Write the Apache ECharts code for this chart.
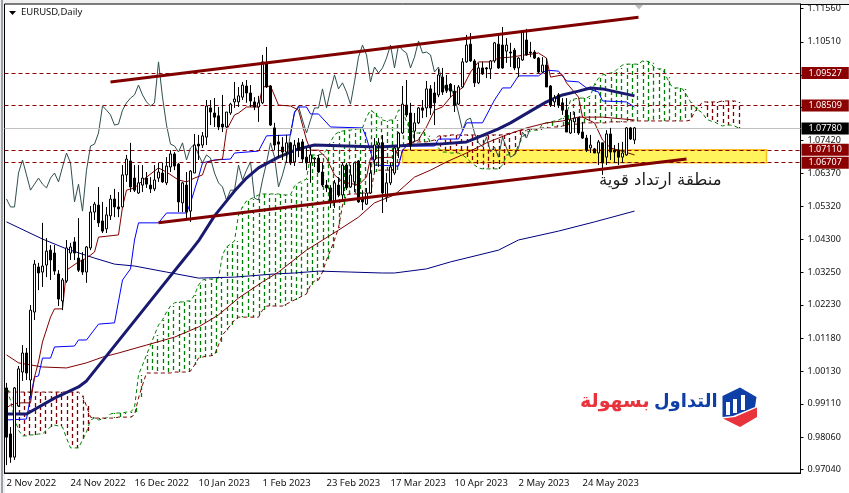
<!DOCTYPE html>
<html><head><meta charset="utf-8">
<style>
html,body{margin:0;padding:0;background:#efefef;overflow:hidden}
#bg{position:absolute;left:5px;top:4px;width:844px;height:489px;background:#fff;border-top:1px solid #000;box-sizing:border-box}
#edge{position:absolute;left:1px;top:0;width:2px;height:493px;background:#9aa0a6}
#c{position:absolute;left:0;top:0;width:849px;height:493px}
</style></head><body><div id="edge"></div><div id="bg"></div><div id="c"></div>
<script src="https://cdn.jsdelivr.net/npm/echarts@6/dist/echarts.min.js"></script>
<script>
const dateLabels=['2 Nov 2022','24 Nov 2022','16 Dec 2022','10 Jan 2023','1 Feb 2023','23 Feb 2023','17 Mar 2023','10 Apr 2023','2 May 2023','24 May 2023'];
const priceTicks=[1.1156,1.1051,1.0946,1.0844,1.0742,1.0637,1.0532,1.0430,1.0325,1.0223,1.0118,1.0013,0.9911,0.9806,0.9704];
const opens=[.9961,.9816,.9743,.9904,1.0011,1.0071,.9986,1.0200,1.0342,1.0326,
1.0348,1.0395,1.0386,1.0320,1.0235,1.0298,1.0386,1.0421,1.0370,1.0364,
1.0326,1.0402,1.0515,1.0537,1.0487,1.0462,1.0503,1.0556,1.0531,1.0531,
1.0632,1.0676,1.0622,1.0575,1.0600,1.0622,1.0600,1.0588,1.0622,1.0638,
1.0607,1.0657,1.0698,1.0666,1.0544,1.0600,1.0518,1.0638,1.0729,1.0726,
1.0751,1.0843,1.0827,1.0818,1.0792,1.0783,1.0827,1.0862,1.0862,1.0877,
1.0912,1.0890,1.0862,1.0846,1.0859,1.0985,1.0912,1.0780,1.0736,1.0720,
1.0704,1.0733,1.0673,1.0733,1.0736,1.0688,1.0670,1.0682,1.0685,1.0641,
1.0600,1.0591,1.0547,1.0600,1.0569,1.0663,1.0594,1.0610,1.0676,1.0559,
1.0540,1.0575,1.0679,1.0726,1.0733,1.0562,1.0607,1.0638,1.0717,1.0764,
1.0852,1.0827,1.0770,1.0796,1.0843,1.0843,1.0903,1.0890,1.0884,1.0940,
1.0915,1.0918,1.0896,1.0855,1.0909,1.0988,1.1044,1.0991,1.0922,1.0969,
1.0969,1.0966,1.0991,1.1044,1.1041,1.1022,1.1019,1.1025,1.0969,1.0994,
1.1057,1.1019,1.1019,1.1000,1.0956,1.0978,1.0912,1.0862,1.0884,1.0859,
1.0836,1.0764,1.0799,1.0811,1.0767,1.0748,1.0717,1.0714,1.0701,1.0733,
1.0688,1.0761,1.0710,1.0710,1.0688,1.0695,1.0780,1.0742];
const closes=[.9806,.9743,.9961,1.0021,1.0071,1.0008,1.0206,1.0351,1.0323,1.0345,
1.0392,1.0364,1.0329,1.0241,1.0301,1.0402,1.0405,1.0386,1.0332,1.0326,
1.0405,1.0515,1.0540,1.0481,1.0455,1.0506,1.0556,1.0531,1.0525,1.0632,
1.0682,1.0594,1.0584,1.0607,1.0622,1.0603,1.0588,1.0616,1.0641,1.0610,
1.0660,1.0698,1.0660,1.0547,1.0607,1.0515,1.0644,1.0726,1.0723,1.0755,
1.0849,1.0830,1.0814,1.0783,1.0783,1.0830,1.0855,1.0871,1.0881,1.0915,
1.0890,1.0865,1.0846,1.0859,1.0988,1.0909,1.0789,1.0726,1.0729,1.0704,
1.0733,1.0670,1.0726,1.0710,1.0682,1.0670,1.0695,1.0685,1.0641,1.0600,
1.0591,1.0544,1.0607,1.0569,1.0663,1.0591,1.0632,1.0670,1.0547,1.0547,
1.0575,1.0638,1.0726,1.0733,1.0575,1.0607,1.0657,1.0717,1.0764,1.0855,
1.0821,1.0726,1.0796,1.0843,1.0836,1.0903,1.0843,1.0859,1.0947,1.0893,
1.0899,1.0896,1.0852,1.0909,1.0988,1.1041,1.0991,1.0922,1.0969,1.0950,
1.0966,1.0991,1.1048,1.0969,1.0969,1.1041,1.1016,1.0969,1.1000,1.1082,
1.1010,1.1016,1.1000,1.0956,1.0978,1.0909,1.0852,1.0874,1.0852,1.0836,
1.0767,1.0805,1.0811,1.0764,1.0748,1.0710,1.0726,1.0701,1.0736,1.0670,
1.0761,1.0704,1.0704,1.0688,1.0701,1.0780,1.0745,1.0780];
const lows=[.9718,.9725,.9734,.9901,.9983,.9986,.9936,1.0175,1.0269,1.0279,
1.0310,1.0301,1.0317,1.0219,1.0206,1.0292,1.0364,1.0364,1.0326,1.0317,
1.0292,1.0395,1.0490,1.0468,1.0449,1.0449,1.0490,1.0499,1.0499,1.0531,
1.0610,1.0578,1.0578,1.0572,1.0578,1.0591,1.0575,1.0581,1.0610,1.0607,
1.0600,1.0641,1.0647,1.0515,1.0515,1.0496,1.0484,1.0638,1.0679,1.0717,
1.0726,1.0789,1.0783,1.0773,1.0767,1.0780,1.0821,1.0843,1.0846,1.0868,
1.0859,1.0846,1.0836,1.0799,1.0855,1.0906,1.0786,1.0710,1.0688,1.0679,
1.0670,1.0663,1.0660,1.0688,1.0670,1.0647,1.0607,1.0657,1.0638,1.0594,
1.0578,1.0528,1.0528,1.0562,1.0553,1.0584,1.0591,1.0578,1.0544,1.0521,
1.0537,1.0572,1.0638,1.0657,1.0512,1.0547,1.0600,1.0632,1.0685,1.0761,
1.0814,1.0710,1.0736,1.0792,1.0811,1.0814,1.0821,1.0789,1.0877,1.0884,
1.0890,1.0877,1.0830,1.0852,1.0906,1.0985,1.0988,1.0909,1.0918,1.0947,
1.0937,1.0934,1.0985,1.0966,1.0966,1.0985,1.0972,1.0962,1.0940,1.0991,
1.1007,1.1003,1.0997,1.0953,1.0953,1.0909,1.0846,1.0846,1.0843,1.0821,
1.0767,1.0761,1.0764,1.0758,1.0745,1.0704,1.0701,1.0701,1.0663,1.0632,
1.0663,1.0679,1.0670,1.0663,1.0670,1.0692,1.0742,1.0729];
const highs=[.9977,.9838,.9964,1.0030,1.0096,1.0087,1.0222,1.0364,1.0355,1.0481,
1.0433,1.0411,1.0411,1.0332,1.0307,1.0427,1.0418,1.0436,1.0496,1.0389,
1.0408,1.0534,1.0547,1.0594,1.0547,1.0531,1.0569,1.0588,1.0578,1.0663,
1.0695,1.0733,1.0663,1.0663,1.0663,1.0641,1.0625,1.0663,1.0670,1.0670,
1.0688,1.0710,1.0704,1.0670,1.0610,1.0641,1.0647,1.0761,1.0758,1.0767,
1.0868,1.0868,1.0874,1.0846,1.0884,1.0830,1.0859,1.0925,1.0909,1.0925,
1.0931,1.0915,1.0877,1.0881,1.1010,1.1035,1.0915,1.0796,1.0758,1.0751,
1.0758,1.0736,1.0742,1.0748,1.0745,1.0717,1.0720,1.0688,1.0695,1.0670,
1.0616,1.0600,1.0616,1.0625,1.0670,1.0670,1.0663,1.0673,1.0679,1.0584,
1.0591,1.0670,1.0748,1.0748,1.0758,1.0638,1.0670,1.0720,1.0767,1.0912,
1.0931,1.0859,1.0827,1.0846,1.0868,1.0928,1.0915,1.0925,1.0966,1.0969,
1.0947,1.0921,1.0915,1.0915,1.1000,1.1073,1.1079,1.0997,1.0985,1.0988,
1.0972,1.0994,1.1051,1.1073,1.1098,1.1063,1.1048,1.1032,1.1003,1.1088,
1.1092,1.1051,1.1025,1.1003,1.1003,1.1000,1.0915,1.0884,1.0890,1.0874,
1.0874,1.0830,1.0830,1.0814,1.0799,1.0758,1.0758,1.0717,1.0742,1.0733,
1.0773,1.0780,1.0726,1.0733,1.0736,1.0783,1.0783,1.0783];
const chikou=[1.0556,1.0531,1.0531,1.0638,1.0679,1.0632,1.0584,1.0603,1.0622,1.0603,
1.0591,1.0622,1.0638,1.0610,1.0657,1.0701,1.0670,1.0547,1.0603,1.0518,
1.0647,1.0723,1.0729,1.0764,1.0849,1.0836,1.0821,1.0789,1.0792,1.0836,
1.0859,1.0874,1.0884,1.0915,1.0884,1.0862,1.0849,1.0859,1.0988,1.0877,
1.0789,1.0729,1.0723,1.0704,1.0733,1.0679,1.0717,1.0729,1.0695,1.0670,
1.0695,1.0685,1.0638,1.0607,1.0594,1.0553,1.0584,1.0584,1.0663,1.0616,
1.0647,1.0673,1.0559,1.0553,1.0616,1.0670,1.0733,1.0688,1.0594,
1.0632,1.0679,1.0764,1.0827,1.0849,1.0805,1.0764,1.0805,1.0843,1.0843,1.0903,
1.0843,1.0899,1.0947,1.0903,1.0922,1.0893,1.0855,1.0925,1.1003,1.1041,
1.1010,1.0925,1.0972,1.0953,1.0969,1.1000,1.1041,1.0969,1.1041,1.1025,
1.1016,1.0969,1.1003,1.1054,1.1016,1.1019,1.1010,1.0956,1.0972,1.0925,
1.0893,1.0912,1.0877,1.0827,1.0773,1.0805,1.0811,1.0764,1.0733,1.0720,
1.0751,1.0704,1.0720,1.0688,1.0751,1.0717,1.0688,1.0695,1.0717,1.0767,1.0748,1.0780];
const senkouA=[.9954,.9923,.9866,.9828,.9810,.9810,.9813,.9813,.9816,.9816,
.9828,.9838,.9844,.9841,.9838,.9803,.9772,.9772,.9772,.9797,
.9822,.9860,.9866,.9860,.9863,.9866,.9879,.9882,.9882,.9882,
.9885,.9885,.9898,1.0002,1.0033,1.0065,1.0096,1.0128,1.0159,1.0175,
1.0200,1.0219,1.0229,1.0232,1.0232,1.0235,1.0235,1.0254,1.0285,1.0301,
1.0304,1.0304,1.0304,1.0307,1.0380,1.0405,1.0414,1.0424,1.0506,1.0531,
1.0550,1.0556,1.0562,1.0569,1.0572,1.0572,1.0572,1.0572,1.0572,1.0569,
1.0569,1.0569,1.0597,1.0607,1.0613,1.0619,1.0695,1.0695,1.0695,1.0698,
1.0710,1.0736,1.0758,1.0767,1.0770,1.0773,1.0773,1.0777,1.0777,1.0780,
1.0814,1.0836,1.0827,1.0814,1.0805,1.0802,1.0805,1.0805,1.0836,1.0836,
1.0799,1.0773,1.0764,1.0764,1.0767,1.0755,1.0736,1.0726,1.0717,1.0704,
1.0704,1.0701,1.0701,1.0701,1.0695,1.0685,1.0673,1.0663,1.0654,1.0651,
1.0651,1.0651,1.0651,1.0651,1.0663,1.0695,1.0695,1.0695,1.0726,1.0751,
1.0767,1.0770,1.0773,1.0773,1.0792,1.0796,1.0799,1.0802,1.0805,1.0811,
1.0821,1.0868,1.0871,1.0874,1.0874,1.0874,1.0881,1.0918,1.0937,1.0947,
1.0950,1.0953,1.0956,1.0969,1.0978,1.0981,1.0981,1.0981,1.0981,1.0991,
1.0991,1.0985,1.0969,1.0966,1.0966,1.0940,1.0915,1.0906,1.0906,1.0903,
1.0884,1.0862,1.0846,1.0836,1.0827,1.0808,1.0802,1.0799,1.0792,1.0786,
1.0789,1.0789,1.0786,1.0780];
const senkouB=[.9948,.9948,.9948,.9948,.9948,.9948,.9948,.9948,.9948,.9948,
.9948,.9948,.9948,.9948,.9948,.9948,.9948,.9948,.9948,.9936,
.9904,.9869,.9866,.9866,.9866,.9866,.9866,.9866,.9869,.9869,
.9869,.9869,.9876,.9929,.9970,1.0008,1.0008,1.0008,1.0008,1.0008,
1.0008,1.0008,1.0011,1.0011,1.0011,1.0011,1.0014,1.0033,1.0055,1.0058,
1.0062,1.0062,1.0065,1.0096,1.0128,1.0143,1.0159,1.0175,1.0184,1.0184,
1.0184,1.0184,1.0184,1.0184,1.0206,1.0219,1.0219,1.0219,1.0219,1.0219,
1.0225,1.0232,1.0238,1.0244,1.0251,1.0257,1.0285,1.0298,1.0301,1.0326,
1.0364,1.0395,1.0427,1.0465,1.0537,1.0569,1.0572,1.0572,1.0572,1.0575,
1.0575,1.0575,1.0641,1.0647,1.0647,1.0647,1.0647,1.0647,1.0663,1.0710,
1.0723,1.0733,1.0733,1.0736,1.0736,1.0736,1.0739,1.0742,1.0755,1.0755,
1.0755,1.0758,1.0758,1.0758,1.0758,1.0758,1.0758,1.0758,1.0755,1.0755,
1.0755,1.0758,1.0758,1.0758,1.0758,1.0761,1.0764,1.0767,1.0770,1.0773,
1.0773,1.0777,1.0777,1.0777,1.0780,1.0780,1.0780,1.0783,1.0783,1.0786,
1.0789,1.0792,1.0792,1.0792,1.0796,1.0796,1.0796,1.0796,1.0796,1.0796,
1.0796,1.0799,1.0799,1.0799,1.0799,1.0799,1.0802,1.0802,1.0802,1.0802,
1.0802,1.0802,1.0802,1.0802,1.0802,1.0802,1.0802,1.0802,1.0802,1.0802,
1.0802,1.0805,1.0830,1.0846,1.0862,1.0862,1.0862,1.0862,1.0862,1.0865,
1.0865,1.0865,1.0865,1.0862];
const tenkan=[[0,.9898],[1,.9907],[3,.9914],[6,.9914],[7,.9995],[8,1.0043],[9,1.0106],[11,1.0184],[12,1.0210],[14,1.0210],[15,1.0332],[18,1.0358],[20,1.0370],[22,1.0389],[23,1.0436],[28,1.0443],[29,1.0531],[30,1.0584],[32,1.0591],[35,1.0625],[38,1.0654],[40,1.0641],[43,1.0616],[45,1.0610],[47,1.0622],[49,1.0632],[50,1.0670],[51,1.0676],[54,1.0682],[55,1.0773],[57,1.0821],[58,1.0827],[60,1.0846],[63,1.0846],[64,1.0909],[66,1.0912],[68,1.0852],[71,1.0849],[73,1.0836],[75,1.0742],[76,1.0710],[78,1.0710],[80,1.0685],[82,1.0632],[84,1.0610],[88,1.0600],[90,1.0625],[91,1.0685],[97,1.0688],[98,1.0720],[101,1.0733],[103,1.0742],[104,1.0764],[105,1.0783],[107,1.0836],[109,1.0846],[111,1.0877],[113,1.0899],[114,1.0906],[116,1.0956],[118,1.0988],[121,1.0988],[123,1.1000],[126,1.1003],[133,1.1016],[135,1.1000],[136,1.0940],[139,1.0947],[140,1.0922],[143,1.0877],[144,1.0814],[147,1.0796],[149,1.0742],[151,1.0717],[153,1.0710],[157,1.0695]];
const kijun=[[0,.9860],[5,.9863],[6,.9932],[7,.9995],[8,.9999],[9,1.0055],[11,1.0055],[12,1.0090],[17,1.0093],[18,1.0112],[20,1.0112],[23,1.0162],[27,1.0166],[29,1.0301],[31,1.0336],[32,1.0427],[33,1.0481],[38,1.0481],[40,1.0512],[45,1.0512],[46,1.0544],[48,1.0625],[49,1.0670],[52,1.0679],[56,1.0682],[57,1.0701],[63,1.0707],[65,1.0755],[71,1.0758],[72,1.0830],[73,1.0846],[75,1.0846],[76,1.0824],[78,1.0824],[81,1.0783],[89,1.0780],[90,1.0748],[92,1.0663],[98,1.0660],[99,1.0710],[100,1.0723],[107,1.0723],[108,1.0745],[113,1.0745],[115,1.0796],[119,1.0796],[122,1.0868],[124,1.0906],[126,1.0906],[128,1.0944],[133,1.0944],[135,1.0962],[138,1.0959],[140,1.0928],[143,1.0925],[145,1.0906],[148,1.0893],[149,1.0865],[155,1.0862],[157,1.0846]];
const ma50=[[0,.9879],[5,.9879],[12,.9929],[18,.9964],[20,.9983],[25,1.0062],[29,1.0125],[33,1.0188],[41,1.0314],[44,1.0361],[46,1.0392],[48,1.0424],[52,1.0503],[57,1.0581],[60,1.0622],[63,1.0654],[68,1.0688],[73,1.0714],[77,1.0726],[85,1.0723],[93,1.0720],[102,1.0726],[108,1.0729],[115,1.0736],[118,1.0751],[123,1.0777],[126,1.0796],[131,1.0833],[135,1.0862],[139,1.0884],[143,1.0896],[146,1.0906],[149,1.0903],[157,1.0881]];
const ma100=[[0,1.0065],[3,1.0040],[9,1.0027],[15,1.0024],[20,1.0040],[24,1.0058],[28,1.0071],[35,1.0096],[42,1.0121],[48,1.0153],[53,1.0191],[58,1.0244],[64,1.0295],[68,1.0326],[75,1.0395],[83,1.0458],[88,1.0499],[92,1.0544],[97,1.0569],[102,1.0625],[106,1.0647],[110,1.0673],[115,1.0701],[120,1.0733],[125,1.0758],[130,1.0780],[135,1.0796],[139,1.0802],[143,1.0814],[149,1.0814],[157,1.0805]];
const ma200=[[0,1.0484],[9,1.0430],[15,1.0399],[22,1.0370],[27,1.0351],[32,1.0345],[40,1.0326],[48,1.0307],[57,1.0310],[67,1.0320],[72,1.0323],[78,1.0329],[86,1.0326],[94,1.0323],[97,1.0323],[105,1.0336],[111,1.0358],[123,1.0395],[128,1.0427],[138,1.0455],[147,1.0484],[157,1.0518]];
const upperTrend=[[26,1.0925],[158,1.1129]];
const lowerTrend=[[38,1.0481],[170,1.0682]];
const resistance=[1.09527,1.08509];
const support=[1.07110,1.06707];
const lastPrice=1.07780;
const zoneBars=[99,190];

const N=199;
const categories=Array.from({length:N},(_,i)=>i%16===0&&dateLabels[i/16]?dateLabels[i/16]:'');
const candles=opens.map((o,i)=>[o,closes[i],lows[i],highs[i]]);
const cloud=senkouA.map((a,i)=>[i,a,senkouB[i]]);
const FONT='"Noto Sans"';
const showTick=i=>categories[i]!=='';
const tag=(v,bg)=>({yAxis:v,lineStyle:{color:bg==='#000000'?'#c0c0c0':'#8b0000',type:bg==='#000000'?'solid':[4,3],width:1},
  label:{show:true,position:'end',distance:1,formatter:v.toFixed(5),color:'#fff',backgroundColor:bg,fontFamily:FONT,fontSize:9,padding:[1,7,0,7],lineHeight:11}});
const thin=(name,data,color,z,width,type)=>({name,type:'line',data,showSymbol:false,symbol:'none',silent:true,z:z,animation:false,lineStyle:{color,width:width||1,type:type||'solid',join:'round'}});
const hatchOffset={3:0,0:1.33,1:2.67};

const chart=echarts.init(document.getElementById('c'),null,{renderer:'canvas'});
chart.setOption({
 animation:false,backgroundColor:'transparent',
 grid:{left:4.5,top:4,width:796,height:469,show:true,backgroundColor:'#fff',borderColor:'#000',borderWidth:1},
 xAxis:{type:'category',data:categories,boundaryGap:true,
  axisLine:{lineStyle:{color:'#000',width:1}},
  axisTick:{alignWithLabel:true,interval:showTick,length:3,lineStyle:{color:'#000'}},
  axisLabel:{interval:showTick,align:'left',color:'#111',fontFamily:FONT,fontSize:9.5,margin:5},splitLine:{show:false}},
 yAxis:{type:'value',position:'right',min:.96930,max:1.11704,scale:true,splitLine:{show:false},
  axisLine:{show:true,lineStyle:{color:'#000',width:1}},
  axisTick:{show:true,length:3,customValues:priceTicks,lineStyle:{color:'#000'}},
  axisLabel:{customValues:priceTicks,formatter:v=>v.toFixed(5),color:'#111',fontFamily:FONT,fontSize:9,margin:7}},
 series:[
  {name:'zone',type:'line',data:[[zoneBars[0],support[0]],[zoneBars[1],support[0]]],symbol:'none',lineStyle:{opacity:0},z:1,silent:true,
   markArea:{silent:true,itemStyle:{color:'#FFF45C',borderColor:'#F5C020',borderWidth:1.5},data:[[{coord:[zoneBars[0],support[0]]},{coord:[zoneBars[1],support[1]]}]]}},
  {name:'levels',type:'line',data:[],symbol:'none',z:3,silent:true,
   markLine:{silent:true,symbol:'none',precision:5,animation:false,data:[tag(resistance[0],'#8b0000'),tag(resistance[1],'#8b0000'),tag(lastPrice,'#000000'),tag(support[0],'#8b0000'),tag(support[1],'#8b0000')]}},
  {name:'cloud',type:'custom',data:cloud,silent:true,z:2,clip:true,encode:{x:0,y:[1,2]},
   renderItem:(p,api)=>{const i=api.value(0),a=api.value(1),b=api.value(2);
    const off=hatchOffset[i%4];if(off===undefined)return null;
    const s=api.coord([i,Math.max(a,b)]),e=api.coord([i,Math.min(a,b)]);const x=Math.round(s[0]+off)+0.5;
    return {type:'line',shape:{x1:x,y1:s[1],x2:x,y2:e[1]},style:{stroke:a>=b?'#008000':'#800000',lineWidth:1.3,lineCap:'butt',lineDash:[4,3],lineDashOffset:(i%2)*3}};}},
  thin('Senkou A',senkouA,'#008000',2,1,[4,3]),
  thin('Senkou B',senkouB,'#800000',2,1,[4,3]),
  thin('Chikou',chikou.map((v,i)=>[i,v]),'#2F4F4F',4),
  thin('MA200',ma200,'#000080',4),
  thin('MA100',ma100,'#800000',4),
  thin('Kijun',kijun,'#0000FF',4),
  thin('Tenkan',tenkan,'#800000',4),
  thin('MA50',ma50,'#191970',5,3),
  {name:'EURUSD',type:'candlestick',data:candles,barWidth:3,z:6,silent:true,
   itemStyle:{color:'#fff',color0:'#000',borderColor:'#000',borderColor0:'#000',borderWidth:1}},
  thin('Upper channel',upperTrend,'#800000',7,3),
  thin('Lower channel',lowerTrend,'#800000',7,3)
 ],
 graphic:[
  {type:'polygon',silent:true,z:50,shape:{points:[[9,11],[16,11],[12.5,15]]},style:{fill:'#000'}},
  {type:'text',silent:true,z:50,left:21,top:7,style:{text:'EURUSD,Daily',fill:'#111',font:'9.5px '+FONT}},
  {type:'polygon',silent:true,z:50,shape:{points:[[635,5],[643,5],[639,9.5]]},style:{fill:'#bdbdbd'}},
  {type:'text',silent:true,z:50,left:599,top:172,style:{text:'منطقة ارتداد قوية',fill:'#1c1c1c',font:'16.5px "DejaVu Sans"',direction:'rtl'}},
  {type:'text',silent:true,z:50,left:580,top:393,style:{text:'بسهولة',fill:'#E8323C',font:'bold 19px "DejaVu Sans"'}},
  {type:'text',silent:true,z:50,left:654,top:393,style:{text:'التداول',fill:'#0D3FA6',font:'bold 18px "DejaVu Sans"'}},
  {type:'polygon',silent:true,z:50,shape:{points:[[722.5,396],[740,387.5],[756.5,397],[755,407],[733,416],[722.5,417]]},style:{fill:'#0D3FA6'}},
  {type:'rect',silent:true,z:51,shape:{x:726,y:402,width:4,height:13},style:{fill:'#fff'}},
  {type:'rect',silent:true,z:51,shape:{x:733,y:399,width:4,height:14},style:{fill:'#fff'}},
  {type:'rect',silent:true,z:51,shape:{x:741,y:395,width:4,height:15},style:{fill:'#fff'}},
  {type:'polygon',silent:true,z:50,shape:{points:[[723,418.5],[735,417],[757,407.5],[757,417],[740,427]]},style:{fill:'#E8323C'}}
 ]
});
</script></body></html>
